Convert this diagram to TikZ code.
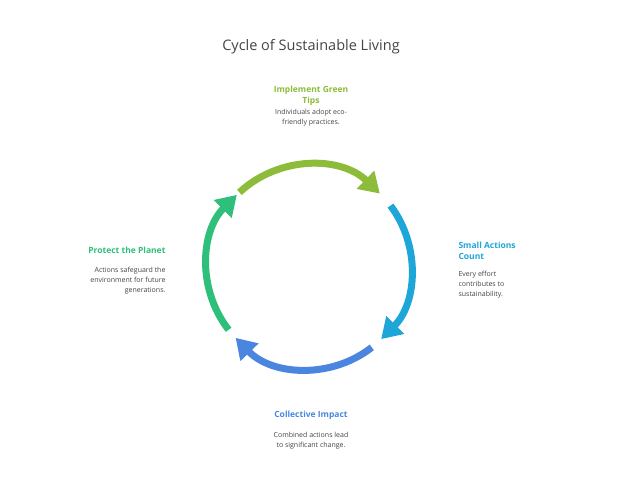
\documentclass[tikz,border=0pt]{standalone}
\usepackage{fontspec}
\setmainfont{Open Sans}
\usetikzlibrary{arrows.meta,calc}
\definecolor{cg}{HTML}{8DBB3A}
\definecolor{cc}{HTML}{1FA6D8}
\definecolor{cb}{HTML}{4A86E0}
\definecolor{cl}{HTML}{2EBF7A}
\definecolor{tx}{HTML}{444444}
\begin{document}
\begin{tikzpicture}[x=1pt,y=1pt,
 arc/.style={line width=7pt,-{Triangle[length=20pt,width=24pt]}},
 ttl/.style={font=\fontsize{8.5}{11.5}\selectfont\bfseries,align=center},
 dsc/.style={font=\fontsize{7}{10}\selectfont,text=tx}]
\useasboundingbox (0,0) rectangle (624,492);
\node (title) at (311,445) {\fontsize{14.5}{16}\selectfont\color{tx}Cycle of Sustainable Living};
\coordinate (c) at (309,225);
\draw[arc,cg] ($(c)+(133:102)$) arc (133:46:102) coordinate (e1);
\draw[arc,cc] ($(c)+(37:102)$) arc (37:-45:102) coordinate (e2);
\draw[arc,cb] ($(c)+(-52:102)$) arc (-52:-136:102) coordinate (e3);
\draw[arc,cl] ($(c)+(-142:102)$) arc (-142:-225:102) coordinate (e4);
\node[ttl,text=cg] (t1) at (311,396) {Implement Green\\Tips};
\node[dsc,align=center] (d1) at (311,374) {Individuals adopt eco-\\friendly practices.};
\node[ttl,text=cc,align=left,anchor=west] (t2) at (455,241) {Small Actions\\Count};
\node[dsc,align=left,anchor=west] (d2) at (455,207) {Every effort\\contributes to\\sustainability.};
\node[ttl,text=cb] (t3) at (311,77) {Collective Impact};
\node[dsc,align=center] (d3) at (311,51) {Combined actions lead\\to significant change.};
\node[ttl,text=cl,anchor=east] (t4) at (169,242) {Protect the Planet};
\node[dsc,align=right,anchor=east] (d4) at (169,211) {Actions safeguard the\\environment for future\\generations.};
\end{tikzpicture}
\end{document}
